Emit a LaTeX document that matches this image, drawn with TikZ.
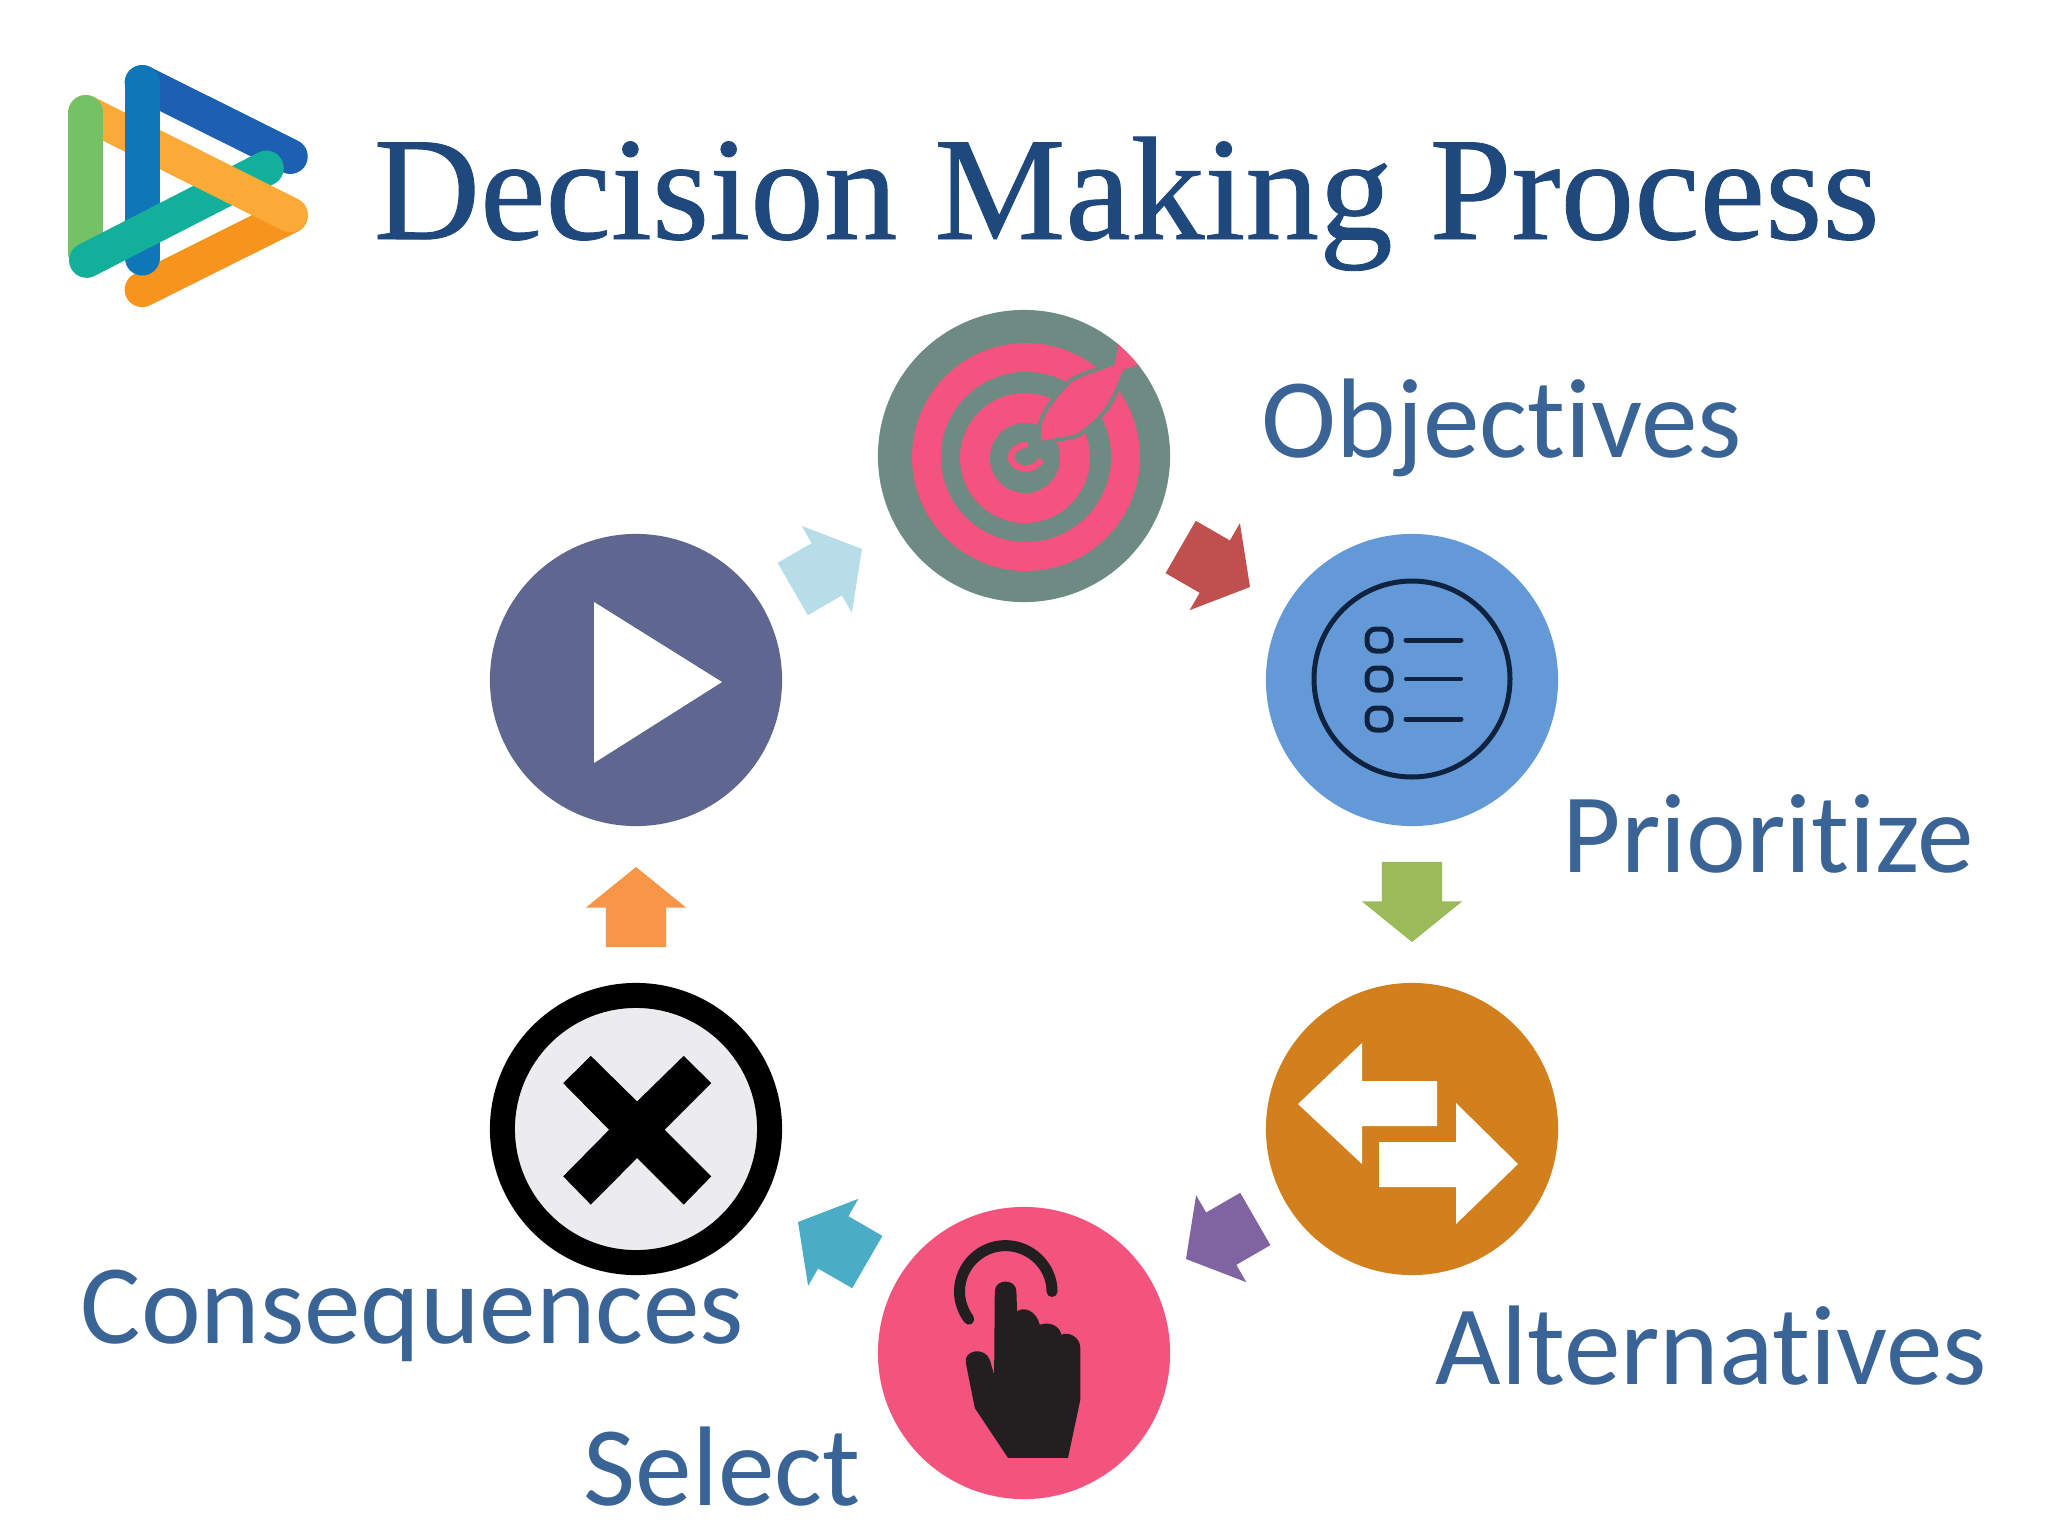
\documentclass[tikz,border=0pt]{standalone}
\usepackage{fontspec}
\usepackage{tikz}
\usetikzlibrary{shapes.arrows}
\setmainfont[Ligatures={NoCommon,NoRare}]{Carlito}
\newfontfamily\titlefont[FakeBold=0.6]{Liberation Serif}

\definecolor{titleblue}{HTML}{1F497D}
\definecolor{labelblue}{HTML}{3A6396}
\definecolor{targetgreen}{HTML}{6D8B82}
\definecolor{targetpink}{HTML}{F4527F}
\definecolor{listblue}{HTML}{6399D6}
\definecolor{listink}{HTML}{0F2240}
\definecolor{swaporange}{HTML}{D2801E}
\definecolor{handpink}{HTML}{F2547D}
\definecolor{handink}{HTML}{231F20}
\definecolor{crossgrey}{HTML}{ECEBEE}
\definecolor{playblue}{HTML}{5F668F}

\begin{document}
\begin{tikzpicture}[x=0.01cm, y=-0.01cm,
  stepdisc/.style={circle, minimum size=2.92cm, inner sep=0pt, outer sep=0pt},
  steparrow/.style={single arrow, anchor=tip, minimum width=0.99cm, minimum height=0.8cm,
    single arrow head extend=0.2cm, single arrow tip angle=102,
    inner xsep=0pt, inner ysep=0.295cm, outer sep=0pt},
  steplabel/.style={anchor=base west, inner sep=0pt, text=labelblue,
    font=\fontsize{32.2}{38}\selectfont},
  logoband/.style={line width=0.35cm, line cap=round}]

\path[fill=white, use as bounding box] (0,0) rectangle (2048,1536);

% Logo
\begin{scope}[shift={(40,40)}, x=0.00333cm, y=-0.00333cm]
\draw[logoband, color={rgb,255:red,29;green,95;blue,176}] (307,128) -- (752,350);
\draw[logoband, color={rgb,255:red,247;green,148;blue,30}] (307,750) -- (752,528);
\draw[logoband, color={rgb,255:red,251;green,169;blue,55}] (138,218) -- (460,379);
\draw[logoband, color={rgb,255:red,117;green,193;blue,101}] (138,218) -- (138,640);
\draw[logoband, color={rgb,255:red,15;green,118;blue,184}] (307,128) -- (307,655);
\draw[logoband, color={rgb,255:red,18;green,176;blue,154}] (140,662) -- (680,385);
\draw[logoband, color={rgb,255:red,251;green,169;blue,55}] (420,359) -- (752,525);
\end{scope}

% Title
\node[anchor=base west, inner sep=0pt, text=titleblue, font=\titlefont\fontsize{41.9}{50}\selectfont]
  (title) at (373,239) {Decision Making Process};

% Objectives disc
\node[stepdisc, fill=targetgreen] (target) at (1024,456) {};
\begin{scope}
\clip (1024,456) circle [radius=146];
\fill[targetpink] (1026,457) circle [radius=114];
\fill[targetgreen] (1026,457) circle [radius=85];
\fill[targetpink] (1025,458) circle [radius=65];
\fill[targetgreen] (1025,458) circle [radius=35];
\begin{scope}[shift={(860,300)}, x=0.00333cm, y=-0.00333cm]
\draw[targetpink, line width=0.065cm] (505,435) .. controls (465,435) and (450,465) .. (455,480) .. controls (465,510) and (520,520) .. (545,480);
\filldraw[fill=targetpink, draw=targetgreen, line width=0.04cm, line join=round]
  (510,465) -- (540,425) .. controls (530,380) and (545,325) .. (635,240) .. controls (680,215) and (730,205) .. (760,190)
  -- (770,130) -- (800,90) -- (900,170) -- (840,200) -- (795,215) .. controls (775,265) and (755,315) .. (735,335)
  .. controls (705,375) and (665,400) .. (650,410) -- (545,430) -- cycle;
\end{scope}
\end{scope}

% Prioritize disc
\node[stepdisc, fill=listblue] (list) at (1412,680) {};
\draw[listink, line width=0.05cm] (1412,679) circle [radius=98];
\draw[listink, line width=0.05cm, rounded corners=2.5pt] (1367,629) rectangle (1391,651);
\draw[listink, line width=0.05cm, rounded corners=2.5pt] (1367,668) rectangle (1391,690);
\draw[listink, line width=0.05cm, rounded corners=2.5pt] (1367,708) rectangle (1391,730);
\draw[listink, line width=0.05cm, line cap=round] (1406,640) -- (1461,640);
\draw[listink, line width=0.04cm, line cap=round] (1406,679) -- (1461,679);
\draw[listink, line width=0.05cm, line cap=round] (1406,719) -- (1461,719);

% Alternatives disc
\node[stepdisc, fill=swaporange] (swap) at (1412,1129) {};
\fill[white] (1298,1104) -- (1362,1043) -- (1362,1081) -- (1437,1081) -- (1437,1126) -- (1362,1126) -- (1362,1164) -- cycle;
\fill[white] (1518,1164) -- (1456,1103) -- (1456,1142) -- (1379,1142) -- (1379,1187) -- (1456,1187) -- (1456,1224) -- cycle;

% Select disc
\node[stepdisc, fill=handpink] (hand) at (1024,1353) {};
\begin{scope}[shift={(860,1200)}, x=0.00333cm, y=-0.00333cm]
\draw[handink, line width=0.11cm, line cap=round] (577,275) .. controls (577,199) and (513,137) .. (437,137)
  .. controls (361,137) and (299,199) .. (299,275) .. controls (299,305) and (309,333) .. (327,358);
\fill[handink] (405,275) .. controls (405,235) and (470,235) .. (470,275) -- (472,335)
  .. controls (490,320) and (530,330) .. (540,375) .. controls (565,365) and (600,375) .. (605,405)
  .. controls (625,395) and (662,410) .. (662,445) -- (662,600) -- (625,775) -- (445,775)
  -- (345,625) -- (318,490) .. controls (310,450) and (375,440) .. (390,480) -- (403,525) -- cycle;
\end{scope}

% Consequences disc
\node[stepdisc, fill=crossgrey, draw=black, line width=0.25cm, minimum size=2.67cm] (cross) at (636,1129) {};
\begin{scope}[shift={(480,970)}, x=0.00333cm, y=-0.00333cm]
\fill[black] (333,258) -- (472,395) -- (612,258) -- (695,340) -- (555,480) -- (695,620) -- (612,705) -- (472,565) -- (333,705) -- (250,620) -- (388,480) -- (250,340) -- cycle;
\end{scope}

% Start disc
\node[stepdisc, fill=playblue] (play) at (636,680) {};
\fill[white] (594,602) -- (722,682) -- (594,763) -- cycle;

% Arrows round the ring
\node[steparrow, fill={rgb,255:red,192;green,80;blue,77}, rotate=-30] (toPrioritize) at (1250,587) {};
\node[steparrow, fill={rgb,255:red,155;green,187;blue,89}, rotate=-90] (toAlternatives) at (1412,942) {};
\node[steparrow, fill={rgb,255:red,128;green,100;blue,162}, rotate=210] (toSelect) at (1186,1259) {};
\node[steparrow, fill={rgb,255:red,75;green,172;blue,198}, rotate=150] (toConsequences) at (798,1222) {};
\node[steparrow, fill={rgb,255:red,247;green,150;blue,70}, rotate=90] (toStart) at (636,867) {};
\node[steparrow, fill={rgb,255:red,183;green,222;blue,232}, rotate=30] (toObjectives) at (862,549) {};

% Labels
\node[steplabel] (objectives) at (1261,457) {Objectives};
\node[steplabel] (prioritize) at (1562,872) {Prioritize};
\node[steplabel] (alternatives) at (1435,1384) {Alternatives};
\node[steplabel] (consequences) at (80,1343) {Consequences};
\node[steplabel] (select) at (583,1505) {Select};

\end{tikzpicture}
\end{document}
